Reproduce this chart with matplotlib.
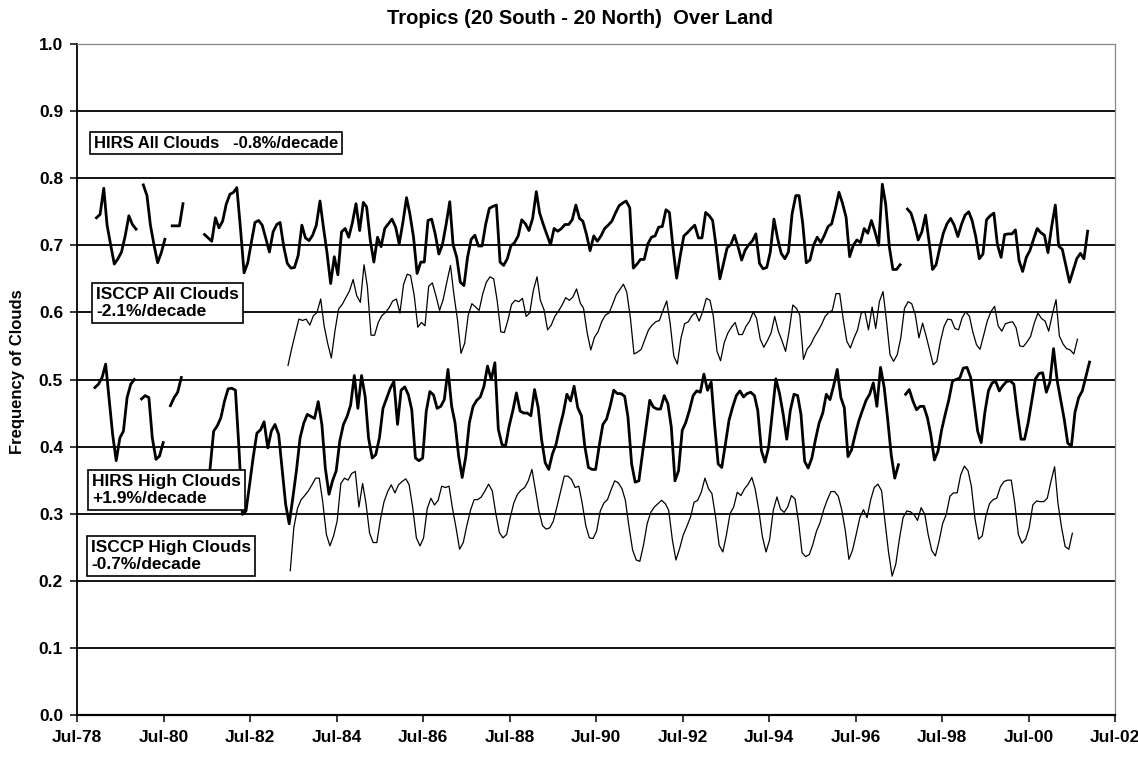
import numpy as np
import pandas as pd
import matplotlib
matplotlib.use("Agg")
import matplotlib.pyplot as plt
import matplotlib.dates as mdates

# monthly fractions, None = gap in the record
# (start dates carry the small offset measured on the slightly rotated scan)
hirs_all_start = "1978-11-12"
hirs_high_start = "1978-11-29"
isccp_all_start = "1983-05-18"
isccp_high_start = "1983-06-06"

hirs_all = [
    None, 0.741, 0.746, 0.785, 0.730, 0.700, 0.672, 0.680, 0.690, 0.714, 0.744, 0.731,
    0.724, None, 0.790, 0.774, 0.730, 0.700, 0.674, 0.689, 0.709, None, 0.729, 0.729,
    0.729, 0.762, None, None, None, None, None, 0.716, 0.711, 0.706, 0.741, 0.726,
    0.736, 0.761, 0.776, 0.779, 0.786, 0.724, 0.659, 0.674, 0.704, 0.734, 0.737, 0.730,
    0.710, 0.690, 0.720, 0.731, 0.734, 0.698, 0.673, 0.666, 0.667, 0.685, 0.730, 0.711,
    0.707, 0.715, 0.730, 0.766, 0.727, 0.688, 0.643, 0.683, 0.656, 0.720, 0.725, 0.712,
    0.734, 0.762, 0.722, 0.764, 0.757, 0.707, 0.675, 0.712, 0.698, 0.725, 0.732, 0.739,
    0.727, 0.702, 0.734, 0.771, 0.747, 0.712, 0.658, 0.675, 0.675, 0.737, 0.739, 0.717,
    0.687, 0.701, 0.731, 0.765, 0.701, 0.682, 0.645, 0.640, 0.682, 0.709, 0.715, 0.699,
    0.699, 0.731, 0.755, 0.758, 0.760, 0.675, 0.670, 0.680, 0.699, 0.704, 0.714, 0.738,
    0.732, 0.722, 0.740, 0.780, 0.748, 0.731, 0.716, 0.701, 0.725, 0.721, 0.725, 0.731,
    0.731, 0.738, 0.760, 0.740, 0.736, 0.716, 0.692, 0.714, 0.706, 0.714, 0.725, 0.730,
    0.736, 0.748, 0.759, 0.763, 0.766, 0.756, 0.666, 0.672, 0.679, 0.679, 0.702, 0.712,
    0.714, 0.727, 0.728, 0.753, 0.749, 0.695, 0.651, 0.685, 0.714, 0.719, 0.725, 0.730,
    0.711, 0.711, 0.749, 0.744, 0.737, 0.696, 0.650, 0.673, 0.696, 0.701, 0.715, 0.698,
    0.678, 0.693, 0.701, 0.707, 0.717, 0.673, 0.665, 0.667, 0.690, 0.739, 0.710, 0.688,
    0.680, 0.690, 0.747, 0.774, 0.774, 0.732, 0.674, 0.678, 0.700, 0.712, 0.704, 0.715,
    0.728, 0.732, 0.754, 0.779, 0.763, 0.742, 0.683, 0.700, 0.708, 0.704, 0.725, 0.718,
    0.737, 0.720, 0.700, 0.791, 0.762, 0.698, 0.664, 0.664, 0.671, None, 0.754, 0.748,
    0.730, 0.708, 0.720, 0.745, 0.708, 0.664, 0.671, 0.696, 0.718, 0.732, 0.740, 0.730,
    0.713, 0.731, 0.745, 0.750, 0.737, 0.713, 0.680, 0.687, 0.738, 0.744, 0.748, 0.701,
    0.682, 0.716, 0.717, 0.717, 0.723, 0.677, 0.661, 0.682, 0.692, 0.709, 0.725, 0.719,
    0.715, 0.689, 0.728, 0.760, 0.699, 0.694, 0.670, 0.645, 0.662, 0.680, 0.688, 0.680,
    0.721,
]

hirs_high = [
    0.488, 0.493, 0.503, 0.523, 0.473, 0.418, 0.379, 0.413, 0.423, 0.473, 0.493, 0.500,
    None, 0.471, 0.476, 0.473, 0.413, 0.381, 0.386, 0.406, None, 0.461, 0.473, 0.481,
    0.503, None, None, None, None, None, None, None, 0.366, 0.423, 0.431, 0.443,
    0.468, 0.486, 0.487, 0.484, 0.403, 0.299, 0.304, 0.344, 0.384, 0.420, 0.425, 0.437,
    0.398, 0.423, 0.433, 0.418, 0.368, 0.314, 0.285, 0.324, 0.364, 0.413, 0.435, 0.448,
    0.445, 0.442, 0.467, 0.433, 0.368, 0.329, 0.349, 0.364, 0.408, 0.433, 0.445, 0.462,
    0.506, 0.457, 0.506, 0.474, 0.413, 0.383, 0.388, 0.413, 0.457, 0.472, 0.487, 0.497,
    0.433, 0.484, 0.489, 0.477, 0.455, 0.383, 0.379, 0.383, 0.452, 0.482, 0.477, 0.457,
    0.460, 0.470, 0.515, 0.460, 0.436, 0.386, 0.354, 0.386, 0.436, 0.460, 0.469, 0.474,
    0.490, 0.520, 0.500, 0.525, 0.426, 0.403, 0.401, 0.431, 0.453, 0.480, 0.453, 0.450,
    0.450, 0.446, 0.485, 0.458, 0.411, 0.376, 0.366, 0.389, 0.403, 0.428, 0.450, 0.478,
    0.468, 0.490, 0.458, 0.446, 0.401, 0.369, 0.366, 0.366, 0.401, 0.433, 0.441, 0.460,
    0.484, 0.479, 0.479, 0.475, 0.444, 0.374, 0.347, 0.349, 0.389, 0.429, 0.469, 0.459,
    0.456, 0.456, 0.476, 0.464, 0.429, 0.349, 0.364, 0.424, 0.436, 0.454, 0.476, 0.483,
    0.481, 0.508, 0.484, 0.496, 0.434, 0.374, 0.369, 0.404, 0.439, 0.459, 0.476, 0.483,
    0.474, 0.479, 0.481, 0.476, 0.454, 0.394, 0.377, 0.399, 0.449, 0.501, 0.479, 0.449,
    0.411, 0.454, 0.478, 0.476, 0.448, 0.378, 0.368, 0.383, 0.410, 0.435, 0.450, 0.478,
    0.470, 0.490, 0.515, 0.473, 0.458, 0.385, 0.395, 0.418, 0.438, 0.454, 0.469, 0.478,
    0.495, 0.460, 0.518, 0.488, 0.443, 0.388, 0.353, 0.373, None, 0.478, 0.485, 0.468,
    0.455, 0.460, 0.460, 0.443, 0.418, 0.380, 0.393, 0.425, 0.448, 0.470, 0.498, 0.500,
    0.502, 0.517, 0.518, 0.503, 0.465, 0.423, 0.406, 0.451, 0.483, 0.495, 0.497, 0.483,
    0.491, 0.497, 0.498, 0.493, 0.451, 0.411, 0.411, 0.436, 0.468, 0.501, 0.509, 0.510,
    0.481, 0.496, 0.546, 0.498, 0.471, 0.441, 0.405, 0.401, 0.451, 0.473, 0.483, 0.504,
    0.526,
]

isccp_all = [
    0.521, 0.546, 0.568, 0.590, 0.588, 0.590,
    0.581, 0.595, 0.600, 0.620, 0.580, 0.553, 0.532, 0.573, 0.605, 0.612, 0.622, 0.632,
    0.649, 0.625, 0.615, 0.671, 0.639, 0.566, 0.566, 0.585, 0.595, 0.600, 0.607, 0.617,
    0.620, 0.599, 0.642, 0.657, 0.655, 0.625, 0.578, 0.585, 0.580, 0.639, 0.644, 0.625,
    0.603, 0.619, 0.645, 0.670, 0.628, 0.589, 0.539, 0.554, 0.596, 0.613, 0.608, 0.603,
    0.628, 0.645, 0.653, 0.650, 0.618, 0.571, 0.570, 0.589, 0.612, 0.618, 0.616, 0.621,
    0.594, 0.599, 0.633, 0.653, 0.618, 0.604, 0.574, 0.581, 0.594, 0.602, 0.611, 0.622,
    0.618, 0.623, 0.635, 0.614, 0.606, 0.569, 0.544, 0.563, 0.571, 0.586, 0.596, 0.599,
    0.612, 0.626, 0.634, 0.642, 0.630, 0.591, 0.538, 0.541, 0.545, 0.560, 0.574, 0.581,
    0.586, 0.588, 0.603, 0.617, 0.584, 0.535, 0.523, 0.562, 0.583, 0.586, 0.595, 0.600,
    0.587, 0.601, 0.621, 0.618, 0.594, 0.542, 0.528, 0.555, 0.569, 0.578, 0.585, 0.567,
    0.567, 0.579, 0.587, 0.601, 0.591, 0.560, 0.548, 0.558, 0.569, 0.594, 0.572, 0.558,
    0.542, 0.572, 0.611, 0.606, 0.596, 0.530, 0.545, 0.552, 0.563, 0.572, 0.582, 0.594,
    0.600, 0.603, 0.628, 0.628, 0.591, 0.557, 0.547, 0.562, 0.574, 0.599, 0.601, 0.574,
    0.608, 0.576, 0.616, 0.631, 0.589, 0.537, 0.527, 0.537, 0.562, 0.606, 0.616, 0.613,
    0.596, 0.562, 0.584, 0.564, 0.544, 0.522, 0.527, 0.557, 0.579, 0.590, 0.589, 0.576,
    0.574, 0.592, 0.601, 0.594, 0.571, 0.552, 0.545, 0.566, 0.587, 0.601, 0.609, 0.580,
    0.572, 0.583, 0.585, 0.586, 0.577, 0.550, 0.549, 0.556, 0.564, 0.584, 0.599, 0.591,
    0.587, 0.572, 0.597, 0.619, 0.565, 0.553, 0.546, 0.544, 0.538, 0.560,
]

isccp_high = [
    0.215, 0.279, 0.308, 0.321, 0.327, 0.334,
    0.343, 0.353, 0.353, 0.318, 0.269, 0.252, 0.267, 0.289, 0.345, 0.353, 0.350, 0.360,
    0.363, 0.310, 0.345, 0.316, 0.271, 0.257, 0.257, 0.291, 0.318, 0.333, 0.343, 0.331,
    0.343, 0.348, 0.352, 0.343, 0.308, 0.264, 0.252, 0.264, 0.308, 0.323, 0.313, 0.320,
    0.341, 0.339, 0.341, 0.309, 0.279, 0.247, 0.257, 0.282, 0.305, 0.321, 0.321, 0.325,
    0.334, 0.344, 0.334, 0.301, 0.272, 0.264, 0.269, 0.294, 0.316, 0.329, 0.335, 0.339,
    0.349, 0.366, 0.334, 0.304, 0.282, 0.277, 0.279, 0.289, 0.311, 0.334, 0.356, 0.356,
    0.351, 0.339, 0.341, 0.316, 0.282, 0.264, 0.263, 0.274, 0.304, 0.316, 0.321, 0.336,
    0.349, 0.346, 0.337, 0.320, 0.280, 0.246, 0.231, 0.229, 0.253, 0.285, 0.302, 0.310,
    0.315, 0.320, 0.315, 0.305, 0.261, 0.231, 0.248, 0.268, 0.281, 0.295, 0.317, 0.320,
    0.332, 0.353, 0.337, 0.330, 0.295, 0.253, 0.243, 0.268, 0.300, 0.310, 0.332, 0.327,
    0.337, 0.344, 0.354, 0.337, 0.305, 0.266, 0.243, 0.261, 0.305, 0.325, 0.307, 0.302,
    0.310, 0.327, 0.322, 0.290, 0.242, 0.236, 0.239, 0.254, 0.274, 0.287, 0.306, 0.321,
    0.333, 0.333, 0.326, 0.306, 0.274, 0.232, 0.246, 0.269, 0.294, 0.306, 0.294, 0.321,
    0.339, 0.344, 0.334, 0.289, 0.242, 0.207, 0.225, 0.262, 0.294, 0.304, 0.303, 0.299,
    0.290, 0.309, 0.299, 0.269, 0.245, 0.237, 0.259, 0.285, 0.299, 0.326, 0.331, 0.331,
    0.358, 0.371, 0.364, 0.341, 0.292, 0.262, 0.267, 0.296, 0.315, 0.321, 0.323, 0.340,
    0.348, 0.350, 0.350, 0.316, 0.269, 0.256, 0.262, 0.279, 0.313, 0.319, 0.318, 0.318,
    0.323, 0.348, 0.370, 0.316, 0.279, 0.251, 0.247, 0.271,
]

labels = [
    "HIRS All Clouds   -0.8%/decade",
    "ISCCP All Clouds\n-2.1%/decade",
    "HIRS High Clouds\n+1.9%/decade",
    "ISCCP High Clouds\n-0.7%/decade",
]
y_levels = [0.0, 0.1, 0.2, 0.3, 0.4, 0.5, 0.6, 0.7, 0.8, 0.9, 1.0]
tick_years = list(range(1978, 2003, 2))


def monthly(start, values):
    idx = pd.date_range(start, periods=len(values), freq=pd.DateOffset(months=1))
    vals = np.array([np.nan if v is None else v for v in values], dtype=float)
    return idx, vals


plt.rcParams["font.family"] = ["Liberation Sans", "DejaVu Sans"]
plt.rcParams["font.weight"] = "bold"

fig = plt.figure(figsize=(11.38, 7.58), dpi=100)
ax = fig.add_axes([77 / 1138, 1 - 715 / 758, (1115 - 77) / 1138, (715 - 44) / 758])

# horizontal grid, drawn under the data
ax.hlines(y_levels[1:-1], 0, 1, transform=ax.get_yaxis_transform(),
          colors="black", linewidth=1.3, zorder=1)

x, y = monthly(hirs_all_start, hirs_all)
ax.plot(x, y, color="black", linewidth=2.0, zorder=3)
x, y = monthly(hirs_high_start, hirs_high)
ax.plot(x, y, color="black", linewidth=2.0, zorder=3)
x, y = monthly(isccp_all_start, isccp_all)
ax.plot(x, y, color="black", linewidth=0.9, zorder=3)
x, y = monthly(isccp_high_start, isccp_high)
ax.plot(x, y, color="black", linewidth=0.9, zorder=3)

ax.set_xlim(pd.Timestamp("1978-07-01"), pd.Timestamp("2002-07-01"))
ax.set_ylim(0, 1.0)
ax.set_yticks(y_levels)
ax.yaxis.set_major_formatter(plt.FormatStrFormatter("%.1f"))
ax.set_xticks([pd.Timestamp(f"{yr}-07-01") for yr in tick_years])
ax.xaxis.set_major_formatter(mdates.DateFormatter("%b-%y"))
ax.tick_params(axis="both", direction="out", length=5, width=1.1, colors="black", labelsize=12.5)
ax.tick_params(axis="x", pad=6)
ax.tick_params(axis="y", pad=5)

ax.spines["left"].set_linewidth(1.3)
ax.spines["bottom"].set_linewidth(1.6)
ax.spines["top"].set_color("#888888")
ax.spines["top"].set_linewidth(0.9)
ax.spines["right"].set_color("#888888")
ax.spines["right"].set_linewidth(0.9)
ax.spines["right"].set_linestyle((0, (1, 1)))

# label boxes
box_pos = [(0.0164, 0.852), (0.0183, 0.614), (0.0145, 0.3353), (0.0135, 0.237)]
box_size = [12, 12.5, 12.5, 12.5]
for (bx, by), fs, txt in zip(box_pos, box_size, labels):
    ax.text(bx, by, txt, transform=ax.transAxes, ha="left", va="center",
            fontsize=fs, fontweight="bold", linespacing=1.12, zorder=5,
            bbox=dict(boxstyle="square,pad=0.22", fc="white", ec="black", lw=1.2))

fig.text(580 / 1138, 1 - 18 / 758, "Tropics (20 South - 20 North)  Over Land",
         ha="center", va="center", fontsize=14.5, fontweight="bold")
fig.text(18 / 1138, 1 - 372 / 758, "Frequency of Clouds", rotation=90,
         ha="center", va="center", fontsize=12, fontweight="bold")

fig.savefig("out.png", dpi=100, facecolor="white")
